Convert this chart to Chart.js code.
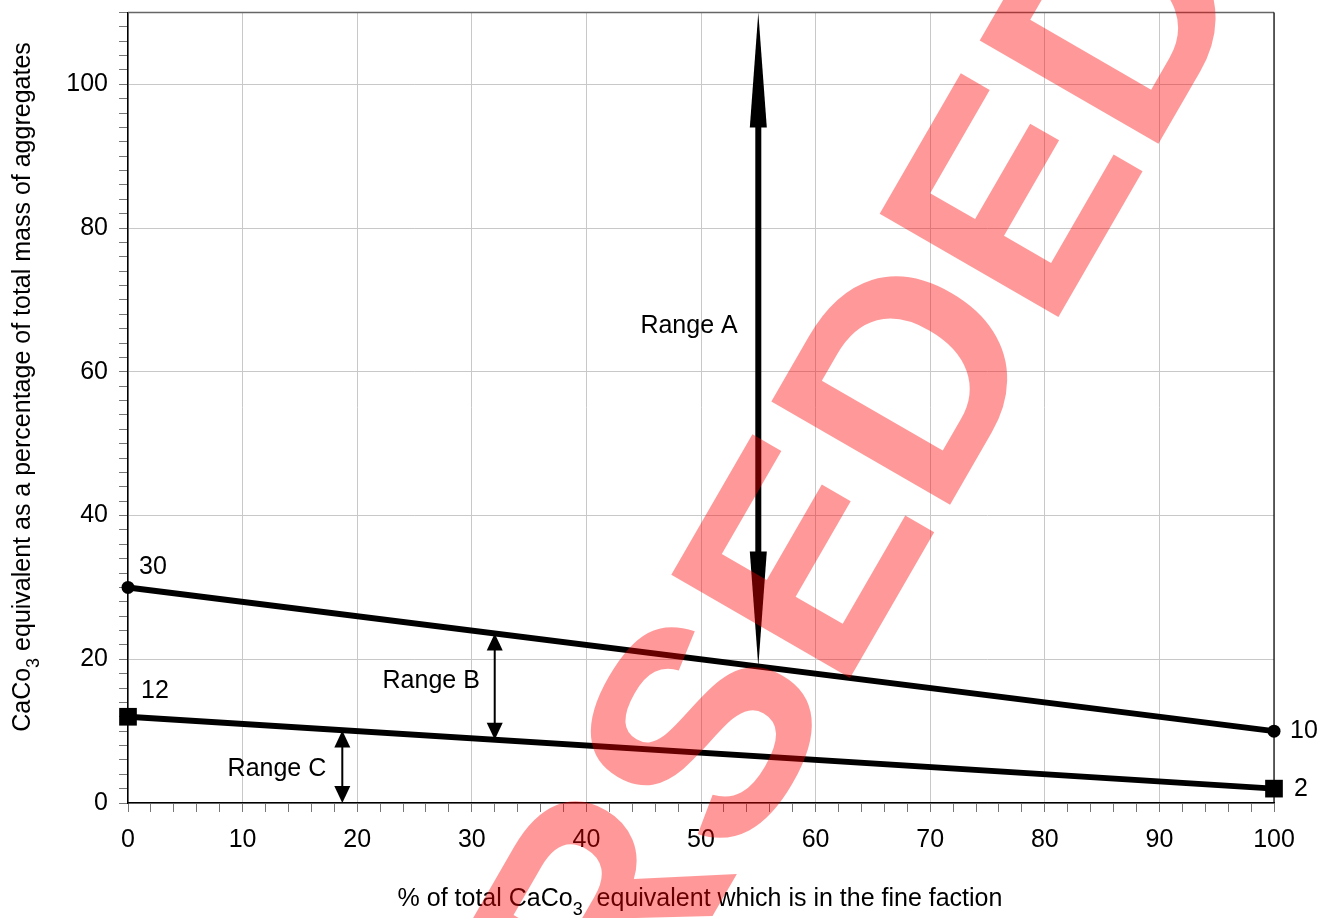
<!DOCTYPE html>
<html>
<head>
<meta charset="utf-8">
<script src="https://cdn.jsdelivr.net/npm/chart.js@4.4.1/dist/chart.umd.min.js"></script>
<style>
html,body{margin:0;padding:0;background:#fff;}
canvas{display:block;}
</style>
</head>
<body>
<canvas id="c" width="1331" height="918"></canvas>
<script>
// ---- data ----
const xValues = [0, 100];
const upperLimit = [30, 10];
const lowerLimit = [12, 2];
const endLabelsUpper = ['30', '10'];
const endLabelsLower = ['12', '2'];

const rangeNames = ['Range A', 'Range B', 'Range C'];
const rangeX = [55, 32, 18.7];
const rangeLow = [19, 8.8, 0];
const rangeHigh = [110, 23.6, 10.1];
const rangeLabelX = [53.2, 30.7, 17.3];
const rangeLabelY = [66.4, 16.9, 4.7];

const xMin = 0, xMax = 100, xStep = 2, xLabelEvery = 10;
const yMin = 0, yMax = 110, yStep = 2, yLabelEvery = 20;

const xTitleParts = [['% of total CaCo', false], ['3', true], ['  equivalent which is in the fine faction', false]];
const yTitleParts = [['CaCo', false], ['3', true], [' equivalent as a percentage of total mass of aggregates', false]];
const watermark = 'SUPERSEDED';

const FONT = '"Liberation Sans", Arial, sans-serif';
const FS = 25;

function drawRich(ctx, parts, size, subSize, subDrop) {
  let total = 0;
  const widths = parts.map(p => {
    ctx.font = (p[1] ? subSize : size) + 'px ' + FONT;
    const w = ctx.measureText(p[0]).width;
    total += w;
    return w;
  });
  let x = -total / 2;
  parts.forEach((p, i) => {
    ctx.font = (p[1] ? subSize : size) + 'px ' + FONT;
    ctx.fillText(p[0], x, p[1] ? subDrop : 0);
    x += widths[i];
  });
}

function arrow(ctx, x, yBottom, yTop, shaftW, headW, headL) {
  ctx.fillStyle = '#000';
  ctx.fillRect(x - shaftW / 2, yTop + headL - 1, shaftW, (yBottom - headL) - (yTop + headL) + 2);
  ctx.beginPath();
  ctx.moveTo(x, yTop);
  ctx.lineTo(x - headW / 2, yTop + headL);
  ctx.lineTo(x + headW / 2, yTop + headL);
  ctx.closePath();
  ctx.fill();
  ctx.beginPath();
  ctx.moveTo(x, yBottom);
  ctx.lineTo(x - headW / 2, yBottom - headL);
  ctx.lineTo(x + headW / 2, yBottom - headL);
  ctx.closePath();
  ctx.fill();
}

const annot = {
  id: 'annot',
  afterDatasetsDraw(chart) {
    const ctx = chart.ctx;
    const xs = chart.scales.x, ys = chart.scales.y;
    const a = chart.chartArea;
    ctx.save();
    // frame top / right
    ctx.strokeStyle = '#666';
    ctx.lineWidth = 1.5;
    ctx.beginPath();
    ctx.moveTo(a.left, a.top);
    ctx.lineTo(a.right, a.top);
    ctx.stroke();
    ctx.strokeStyle = '#000';
    ctx.lineWidth = 1.2;
    ctx.beginPath();
    ctx.moveTo(a.right, a.top);
    ctx.lineTo(a.right, a.bottom);
    ctx.stroke();

    // range arrows
    rangeNames.forEach((name, i) => {
      const px = xs.getPixelForValue(rangeX[i]);
      const yb = ys.getPixelForValue(rangeLow[i]);
      const yt = ys.getPixelForValue(rangeHigh[i]);
      if (i === 0) arrow(ctx, px, yb, yt, 6, 17, 115);
      else arrow(ctx, px, yb, yt, 2, 16, 17);
      ctx.fillStyle = '#000';
      ctx.font = FS + 'px ' + FONT;
      ctx.textAlign = 'right';
      ctx.textBaseline = 'middle';
      ctx.fillText(name, xs.getPixelForValue(rangeLabelX[i]), ys.getPixelForValue(rangeLabelY[i]));
    });

    // end labels
    ctx.font = FS + 'px ' + FONT;
    ctx.textBaseline = 'middle';
    ctx.textAlign = 'left';
    ctx.fillText(endLabelsUpper[0], xs.getPixelForValue(xValues[0]) + 11, ys.getPixelForValue(upperLimit[0]) - 20);
    ctx.fillText(endLabelsLower[0], xs.getPixelForValue(xValues[0]) + 13, ys.getPixelForValue(lowerLimit[0]) - 26);
    ctx.fillText(endLabelsUpper[1], xs.getPixelForValue(xValues[1]) + 16, ys.getPixelForValue(upperLimit[1]));
    ctx.fillText(endLabelsLower[1], xs.getPixelForValue(xValues[1]) + 20, ys.getPixelForValue(lowerLimit[1]));

    // axis titles
    ctx.textAlign = 'left';
    ctx.textBaseline = 'alphabetic';
    ctx.save();
    ctx.translate((a.left + a.right) / 2 - 1, 906);
    drawRich(ctx, xTitleParts, FS, 18, 9);
    ctx.restore();
    ctx.save();
    ctx.translate(30, 387);
    ctx.rotate(-Math.PI / 2);
    drawRich(ctx, yTitleParts, FS, 18, 9);
    ctx.restore();
    ctx.restore();
  },
  afterDraw(chart) {
    const ctx = chart.ctx;
    ctx.save();
    const size = 300;
    ctx.font = 'bold ' + size + 'px ' + FONT;
    ctx.fillStyle = 'rgba(255,0,0,0.4)';
    const pre = ctx.measureText(watermark.slice(0, 6)).width;
    const eW = ctx.measureText(watermark[6]).width;
    ctx.translate(797, 555);
    ctx.rotate(-Math.PI / 3);
    ctx.textAlign = 'left';
    ctx.textBaseline = 'alphabetic';
    ctx.fillText(watermark, -(pre + eW / 2), 0.358 * size);
    ctx.restore();
  }
};

const tickFont = { family: FONT, size: FS };

new Chart(document.getElementById('c'), {
  type: 'scatter',
  data: {
    datasets: [
      {
        data: xValues.map((x, i) => ({ x, y: upperLimit[i] })),
        showLine: true, borderColor: '#000', backgroundColor: '#000', borderWidth: 6,
        pointStyle: 'circle', pointRadius: 6.5, pointBorderWidth: 0, clip: false
      },
      {
        data: xValues.map((x, i) => ({ x, y: lowerLimit[i] })),
        showLine: true, borderColor: '#000', backgroundColor: '#000', borderWidth: 6,
        pointStyle: 'rect', pointRadius: 12.5, pointBorderWidth: 0, clip: false
      }
    ]
  },
  options: {
    responsive: false,
    animation: false,
    devicePixelRatio: 1,
    layout: { padding: { top: 9, right: 57, left: 0, bottom: 0 } },
    plugins: { legend: { display: false }, tooltip: { enabled: false } },
    scales: {
      x: {
        type: 'linear', min: xMin, max: xMax,
        afterFit(s) { s.height = 115; s.paddingLeft = 0; s.paddingRight = 0; },
        ticks: {
          stepSize: xStep, autoSkip: false, maxRotation: 0, minRotation: 0, maxTicksLimit: 1000,
          padding: 13, font: tickFont, color: '#000',
          callback: v => (v % xLabelEvery === 0 ? String(v) : '')
        },
        grid: {
          color: c => (c.tick && c.tick.value % xLabelEvery === 0) ? '#c8c8c8' : 'rgba(0,0,0,0)',
          tickColor: '#777', tickLength: 9, lineWidth: 1, tickWidth: 1
        },
        border: { display: true, color: '#000', width: 1.5 }
      },
      y: {
        type: 'linear', min: yMin, max: yMax,
        afterFit(s) { s.width = 128; s.paddingTop = 0; s.paddingBottom = 0; },
        ticks: {
          stepSize: yStep, autoSkip: false, maxTicksLimit: 1000,
          padding: 11, font: tickFont, color: '#000',
          callback: v => (v % yLabelEvery === 0 ? String(v) : '')
        },
        grid: {
          color: c => (c.tick && c.tick.value % yLabelEvery === 0) ? '#c8c8c8' : 'rgba(0,0,0,0)',
          tickColor: '#777', tickLength: 9, lineWidth: 1, tickWidth: 1
        },
        border: { display: true, color: '#000', width: 1.5 }
      }
    }
  },
  plugins: [annot]
});
</script>
</body>
</html>
